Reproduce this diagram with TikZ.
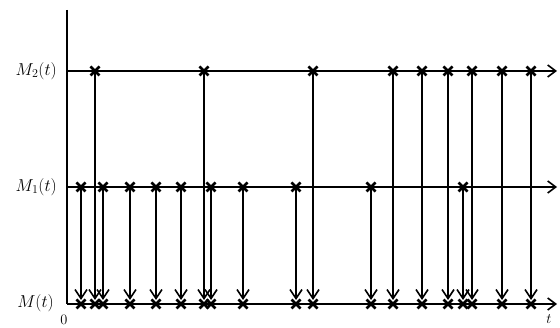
\documentclass[tikz,border=0pt]{standalone}
\usetikzlibrary{arrows.meta}
\begin{document}
\begin{tikzpicture}[x=1pt,y=-1pt,
  axis/.style={line width=1.6pt},
  harrow/.style={line width=1.6pt,-{Straight Barb[length=8pt,width=12pt,line width=1.6pt]}},
  varrow/.style={line width=1.5pt,-{Straight Barb[length=9pt,width=12pt,line width=1.6pt]}},
  xmark/.style={line width=2.6pt},
  lbl/.style={font=\fontsize{17}{20}\selectfont,anchor=east,inner sep=0pt}]
\useasboundingbox (0,0) rectangle (560,328);
% axes
\coordinate (top) at (67,10);
\coordinate (o) at (67,304);
\coordinate (e0) at (557,304);
\coordinate (m1s) at (67,187);
\coordinate (e1) at (557,187);
\coordinate (m2s) at (67,71);
\coordinate (e2) at (557,71);
\draw[axis] (top) -- (o);
\draw[harrow] (o) -- (e0);
\draw[harrow] (m1s) -- (e1);
\draw[harrow] (m2s) -- (e2);
\node[lbl] (l2) at (57,71) {$M_2(t)$};
\node[lbl] (l1) at (57,187) {$M_1(t)$};
\node[lbl] (l0) at (54,303) {$M(t)$};
\node[inner sep=0pt,font=\fontsize{14}{16}\selectfont] (zero) at (64,320) {$0$};
\node[inner sep=0pt,font=\fontsize{14}{16}\selectfont] (tl) at (549,319) {$t$};
% crosses macro
\def\xm#1#2{\draw[xmark] (#1-4.5,#2-4.5) -- (#1+4.5,#2+4.5) (#1-4.5,#2+4.5) -- (#1+4.5,#2-4.5);}
% M2 events
\foreach \x in {95,204,313,393,422,448,472,502,531}{
  \coordinate (a\x) at (\x,71);
  \coordinate (b\x) at (\x,300);
  \draw[varrow] (a\x) -- (b\x);
  \xm{\x}{71}
  \xm{\x}{304}
}
% M1 events
\foreach \x in {81,103,130,156,181,211,243,296,371,463}{
  \coordinate (c\x) at (\x,187);
  \coordinate (d\x) at (\x,300);
  \draw[varrow] (c\x) -- (d\x);
  \xm{\x}{187}
  \xm{\x}{304}
}
\end{tikzpicture}
\end{document}
